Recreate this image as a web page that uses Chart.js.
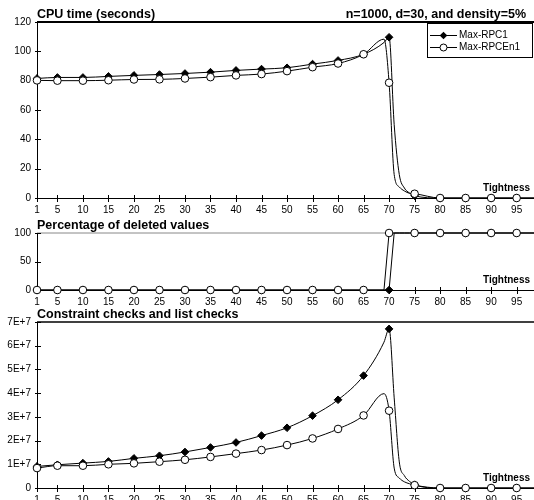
<!DOCTYPE html>
<html>
<head>
<meta charset="utf-8">
<script src="https://cdn.jsdelivr.net/npm/chart.js@4.4.1/dist/chart.umd.min.js"></script>
<style>
  body { margin: 0; background: #fff; width: 534px; height: 500px; overflow: hidden; position: relative; }
  canvas { position: absolute; left: 0; }
</style>
</head>
<body>
<canvas id="cpu" width="534" height="216" style="top:0;width:534px;height:216px"></canvas>
<canvas id="deleted" width="534" height="92" style="top:216px;width:534px;height:92px"></canvas>
<canvas id="checks" width="534" height="198" style="top:308px;width:534px;height:198px"></canvas>
<script>
// tightness values where the curves are sampled
const tightness = [1, 5, 10, 15, 20, 25, 30, 35, 40, 45, 50, 55, 60, 65, 69, 70, 71, 72, 73, 74, 75, 80, 85, 90, 95, 100];
// x tick labels, markers are drawn only on these
const tightnessTicks = [1, 5, 10, 15, 20, 25, 30, 35, 40, 45, 50, 55, 60, 65, 70, 75, 80, 85, 90, 95];

const seriesNames = ['Max-RPC1', 'Max-RPCEn1'];

// CPU time (seconds)
const cpuRpc1   = [81.5, 82.2, 82.2, 82.9, 83.6, 84.2, 84.9, 85.8, 87.0, 87.9, 88.8, 91.3, 93.8, 98.0, 106.0, 109.6, 50.0, 16.0, 6.8, 3.4, 1.5, 0, 0, 0, 0, 0];
const cpuRpcEn1 = [80.2, 80.0, 80.0, 80.3, 80.8, 80.9, 81.5, 82.4, 83.6, 84.5, 86.5, 89.2, 91.7, 98.0, 108.3, 78.6, 16.0, 7.5, 4.8, 3.2, 2.9, 0, 0, 0, 0, 0];

// Percentage of deleted values
const delRpc1   = [0, 0, 0, 0, 0, 0, 0, 0, 0, 0, 0, 0, 0, 0, 0, 0, 100, 100, 100, 100, 100, 100, 100, 100, 100, 100];
const delRpcEn1 = [0, 0, 0, 0, 0, 0, 0, 0, 0, 0, 0, 0, 0, 0, 0, 100, 100, 100, 100, 100, 100, 100, 100, 100, 100, 100];

// Constraint checks and list checks
const chkRpc1   = [9.1e6, 9.8e6, 10.5e6, 11.2e6, 12.5e6, 13.6e6, 15.2e6, 17.1e6, 19.2e6, 22.1e6, 25.4e6, 30.5e6, 37.2e6, 47.4e6, 61.5e6, 67.1e6, 38.0e6, 11.0e6, 5.2e6, 2.8e6, 1.4e6, 0, 0, 0, 0, 0];
const chkRpcEn1 = [8.4e6, 9.4e6, 9.4e6, 10.0e6, 10.4e6, 11.1e6, 11.9e6, 13.1e6, 14.5e6, 16.0e6, 18.1e6, 20.9e6, 24.9e6, 30.6e6, 39.8e6, 32.6e6, 8.4e6, 4.2e6, 2.6e6, 1.8e6, 1.2e6, 0, 0, 0, 0, 0];

const FONT = '"Liberation Sans", Arial, sans-serif';

function markerRadius(ctx) {
  const p = ctx.raw;
  return p && tightnessTicks.includes(p.x) ? 3.8 : 0;
}

function drawDiamond(ctx, x, y, r) {
  ctx.beginPath();
  ctx.moveTo(x, y - r); ctx.lineTo(x + r, y); ctx.lineTo(x, y + r); ctx.lineTo(x - r, y);
  ctx.closePath();
  ctx.fillStyle = '#000'; ctx.fill();
}

function drawCircle(ctx, x, y, r) {
  ctx.beginPath();
  ctx.arc(x, y, r, 0, Math.PI * 2);
  ctx.fillStyle = '#fff'; ctx.fill();
  ctx.strokeStyle = '#000'; ctx.lineWidth = 1; ctx.stroke();
}

// axes with crossing ticks, top frame line, titles and legend
const framePlugin = {
  id: 'frame',
  beforeDatasetsDraw(chart, args, o) {
    const { ctx, chartArea: a, scales: { x, y } } = chart;
    ctx.save();
    ctx.strokeStyle = o.topColor;
    ctx.lineWidth = o.topWidth;
    ctx.beginPath();
    ctx.moveTo(a.left, a.top); ctx.lineTo(a.right, a.top);
    ctx.stroke();

    ctx.strokeStyle = '#000';
    ctx.lineWidth = 1;
    ctx.beginPath();
    ctx.moveTo(a.left + 0.5, a.top); ctx.lineTo(a.left + 0.5, a.bottom);
    ctx.moveTo(a.left, a.bottom + 0.5); ctx.lineTo(a.right, a.bottom + 0.5);
    x.ticks.forEach(t => {
      const px = Math.round(x.getPixelForValue(t.value)) + 0.5;
      ctx.moveTo(px, a.bottom - 3); ctx.lineTo(px, a.bottom + 4);
    });
    y.ticks.forEach(t => {
      const py = Math.round(y.getPixelForValue(t.value)) + 0.5;
      ctx.moveTo(a.left - 2, py); ctx.lineTo(a.left + 4, py);
    });
    ctx.stroke();
    ctx.restore();
  },
  afterDraw(chart, args, o) {
    const { ctx, chartArea: a } = chart;
    ctx.save();
    ctx.fillStyle = '#000';
    ctx.textBaseline = 'middle';
    ctx.font = 'bold 12.5px ' + FONT;
    ctx.textAlign = 'left';
    ctx.fillText(o.title, a.left, a.top - 7.5);
    if (o.note) {
      ctx.textAlign = 'right';
      ctx.fillText(o.note, 526, a.top - 7.5);
    }
    ctx.font = 'bold 10px ' + FONT;
    ctx.textAlign = 'right';
    ctx.fillText('Tightness', 530, a.bottom - 10);

    if (o.legend) {
      ctx.strokeStyle = '#000';
      ctx.lineWidth = 1;
      ctx.strokeRect(427.5, 23.5, 105, 34);
      ctx.font = '10px ' + FONT;
      ctx.textAlign = 'left';
      [35, 47].forEach((ly, i) => {
        ctx.beginPath();
        ctx.moveTo(430, ly + 0.5); ctx.lineTo(457, ly + 0.5);
        ctx.strokeStyle = '#000'; ctx.lineWidth = 1; ctx.stroke();
        if (i === 0) drawDiamond(ctx, 443.5, ly + 0.5, 3.8);
        else drawCircle(ctx, 443.5, ly + 0.5, 3.5);
        ctx.fillStyle = '#000';
        ctx.fillText(seriesNames[i], 459, ly + 0.5);
      });
    }
    ctx.restore();
  }
};

function makeChart(id, cfg) {
  const pts = vals => tightness.map((t, i) => ({ x: t, y: vals[i] }));
  new Chart(document.getElementById(id), {
    type: 'line',
    data: {
      datasets: [
        {
          label: seriesNames[0],
          data: pts(cfg.a),
          order: 1,
          borderColor: '#000',
          borderWidth: 1,
          pointStyle: 'rectRot',
          pointRadius: markerRadius,
          pointBackgroundColor: '#000',
          pointBorderColor: '#000',
          pointBorderWidth: 1,
          cubicInterpolationMode: cfg.smooth ? 'monotone' : 'default',
          tension: 0,
          clip: false
        },
        {
          label: seriesNames[1],
          data: pts(cfg.b),
          order: 0,
          borderColor: '#000',
          borderWidth: 1,
          pointStyle: 'circle',
          pointRadius: markerRadius,
          pointBackgroundColor: '#fff',
          pointBorderColor: '#000',
          pointBorderWidth: 1,
          cubicInterpolationMode: cfg.smooth ? 'monotone' : 'default',
          tension: 0,
          clip: false
        }
      ]
    },
    options: {
      responsive: false,
      animation: false,
      devicePixelRatio: 1,
      layout: { autoPadding: false, padding: { top: cfg.padTop, left: 0, right: 0, bottom: 0 } },
      scales: {
        x: {
          type: 'linear',
          min: 1,
          max: 98.4,
          afterBuildTicks: s => { s.ticks = tightnessTicks.map(v => ({ value: v })); },
          afterFit: s => { s.height = 18; },
          grid: { display: false, drawTicks: false },
          border: { display: false },
          ticks: {
            autoSkip: false,
            maxRotation: 0,
            padding: 6,
            color: '#000',
            font: { family: FONT, size: 10 },
            callback: v => String(v)
          }
        },
        y: {
          min: 0,
          max: cfg.yMax,
          afterFit: s => { s.width = 37; },
          grid: { display: false, drawTicks: false },
          border: { display: false },
          ticks: {
            stepSize: cfg.yStep,
            padding: 6,
            color: '#000',
            font: { family: FONT, size: 10 },
            callback: cfg.yLabel || (v => String(v))
          }
        }
      },
      plugins: {
        legend: { display: false },
        tooltip: { enabled: false },
        frame: {
          title: cfg.title,
          note: cfg.note,
          legend: cfg.legend,
          topColor: cfg.topColor,
          topWidth: cfg.topWidth
        }
      }
    },
    plugins: [framePlugin]
  });
}

makeChart('cpu', {
  a: cpuRpc1, b: cpuRpcEn1, smooth: true,
  padTop: 22, yMax: 120, yStep: 20,
  title: 'CPU time (seconds)', note: 'n=1000, d=30, and density=5%', legend: true,
  topColor: '#000', topWidth: 2
});

makeChart('deleted', {
  a: delRpc1, b: delRpcEn1, smooth: false,
  padTop: 17, yMax: 100, yStep: 50,
  title: 'Percentage of deleted values',
  topColor: '#888', topWidth: 1
});

makeChart('checks', {
  a: chkRpc1, b: chkRpcEn1, smooth: true,
  padTop: 14, yMax: 7e7, yStep: 1e7,
  yLabel: v => v === 0 ? '0' : (v / 1e7) + 'E+7',
  title: 'Constraint checks and list checks',
  topColor: '#000', topWidth: 1.5
});
</script>
</body>
</html>
